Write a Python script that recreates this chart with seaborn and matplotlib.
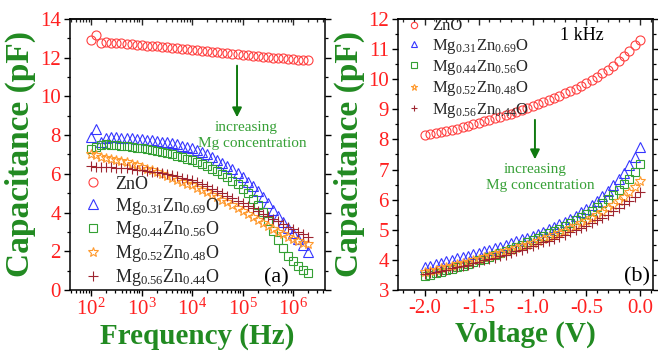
import matplotlib
matplotlib.use("Agg")
import matplotlib.pyplot as plt
import seaborn as sns

# ---- data ----
freq_hz = [100, 126, 158, 200, 251, 316, 398, 501, 631, 794,
           1000, 1259, 1585, 1995, 2512, 3162, 3981, 5012, 6310, 7943,
           10000, 12589, 15849, 19953, 25119, 31623, 39811, 50119, 63096, 79433,
           100000, 125893, 158489, 199526, 251189, 316228, 398107, 501187, 630957, 794328,
           1000000, 1258925, 1584893, 1995262]

cf_zno = [12.9, 13.15, 12.75, 12.8, 12.78, 12.76, 12.74, 12.71, 12.69, 12.67,
          12.65, 12.62, 12.6, 12.58, 12.55, 12.53, 12.5, 12.48, 12.46, 12.43,
          12.41, 12.38, 12.36, 12.34, 12.31, 12.29, 12.26, 12.24, 12.21, 12.19,
          12.16, 12.14, 12.11, 12.09, 12.06, 12.04, 12.01, 11.99, 11.96, 11.94,
          11.92, 11.9, 11.88, 11.87]
cf_mg31 = [7.9, 8.3, 7.65, 7.85, 7.88, 7.88, 7.87, 7.86, 7.84, 7.82,
           7.8, 7.77, 7.74, 7.7, 7.66, 7.62, 7.57, 7.52, 7.46, 7.4,
           7.33, 7.24, 7.14, 7.02, 6.89, 6.74, 6.58, 6.41, 6.23, 6.03,
           5.82, 5.6, 5.36, 5.1, 4.8, 4.47, 4.13, 3.8, 3.5, 3.22,
           2.93, 2.62, 2.3, 1.98]
cf_mg44 = [7.3, 7.4, 7.5, 7.52, 7.5, 7.48, 7.46, 7.43, 7.4, 7.36,
           7.32, 7.28, 7.23, 7.18, 7.12, 7.06, 7.0, 6.93, 6.86, 6.78,
           6.7, 6.6, 6.5, 6.38, 6.26, 6.13, 5.98, 5.82, 5.65, 5.46,
           5.24, 5.0, 4.72, 4.4, 4.02, 3.55, 3.05, 2.58, 2.15, 1.78,
           1.5, 1.25, 1.05, 0.88]
cf_mg52 = [7.05, 6.95, 6.88, 6.83, 6.78, 6.72, 6.66, 6.6, 6.52, 6.44,
           6.36, 6.27, 6.18, 6.09, 6.0, 5.9, 5.8, 5.7, 5.6, 5.5,
           5.4, 5.28, 5.16, 5.04, 4.92, 4.8, 4.67, 4.53, 4.38, 4.23,
           4.08, 3.92, 3.76, 3.6, 3.44, 3.29, 3.14, 3.0, 2.87, 2.75,
           2.64, 2.54, 2.45, 2.38]
cf_mg56 = [6.38, 6.37, 6.36, 6.35, 6.34, 6.32, 6.3, 6.28, 6.25, 6.22,
           6.19, 6.15, 6.11, 6.07, 6.02, 5.97, 5.92, 5.87, 5.81, 5.75,
           5.68, 5.58, 5.47, 5.36, 5.24, 5.12, 5.0, 4.87, 4.74, 4.61,
           4.48, 4.35, 4.22, 4.09, 3.95, 3.82, 3.68, 3.54, 3.4, 3.27,
           3.13, 3.0, 2.87, 2.74]

volt = [-2.0, -1.95, -1.9, -1.85, -1.8, -1.75, -1.7, -1.65, -1.6, -1.55,
        -1.5, -1.45, -1.4, -1.35, -1.3, -1.25, -1.2, -1.15, -1.1, -1.05,
        -1.0, -0.95, -0.9, -0.85, -0.8, -0.75, -0.7, -0.65, -0.6, -0.55,
        -0.5, -0.45, -0.4, -0.35, -0.3, -0.25, -0.2, -0.15, -0.1, -0.05, 0.0]

cv_zno = [8.15, 8.18, 8.21, 8.25, 8.28, 8.32, 8.36, 8.4, 8.44, 8.5,
          8.55, 8.6, 8.65, 8.7, 8.75, 8.8, 8.86, 8.92, 8.98, 9.04,
          9.1, 9.17, 9.24, 9.31, 9.38, 9.45, 9.53, 9.61, 9.69, 9.78,
          9.87, 9.97, 10.08, 10.2, 10.32, 10.45, 10.6, 10.77, 10.95, 11.12, 11.3]
cv_mg31 = [3.75, 3.8, 3.85, 3.9, 3.95, 4.0, 4.05, 4.1, 4.14, 4.19,
           4.24, 4.29, 4.34, 4.39, 4.44, 4.5, 4.56, 4.62, 4.68, 4.74,
           4.8, 4.87, 4.94, 5.02, 5.1, 5.18, 5.27, 5.37, 5.47, 5.58,
           5.7, 5.83, 5.97, 6.12, 6.29, 6.48, 6.68, 6.9, 7.14, 7.42, 7.75]
cv_mg44 = [3.45, 3.5, 3.55, 3.6, 3.65, 3.7, 3.76, 3.81, 3.87, 3.92,
           3.98, 4.04, 4.1, 4.16, 4.22, 4.29, 4.36, 4.43, 4.5, 4.58,
           4.66, 4.73, 4.8, 4.88, 4.96, 5.04, 5.12, 5.21, 5.31, 5.41,
           5.52, 5.63, 5.75, 5.88, 6.02, 6.17, 6.33, 6.51, 6.7, 6.92, 7.17]
cv_mg52 = [3.6, 3.64, 3.68, 3.72, 3.76, 3.8, 3.85, 3.89, 3.94, 3.98,
           4.03, 4.08, 4.13, 4.18, 4.23, 4.28, 4.34, 4.39, 4.45, 4.51,
           4.57, 4.63, 4.7, 4.76, 4.83, 4.9, 4.97, 5.05, 5.13, 5.21,
           5.3, 5.39, 5.49, 5.6, 5.71, 5.83, 5.96, 6.1, 6.26, 6.43, 6.63]
cv_mg56 = [3.52, 3.56, 3.6, 3.64, 3.68, 3.72, 3.76, 3.8, 3.84, 3.89,
           3.93, 3.98, 4.02, 4.07, 4.12, 4.17, 4.23, 4.28, 4.34, 4.4,
           4.46, 4.52, 4.58, 4.64, 4.7, 4.77, 4.84, 4.91, 4.98, 5.06,
           5.14, 5.22, 5.31, 5.4, 5.5, 5.61, 5.72, 5.84, 5.97, 6.1, 6.25]

labels = ["ZnO", r"Mg$_{0.31}$Zn$_{0.69}$O", r"Mg$_{0.44}$Zn$_{0.56}$O",
          r"Mg$_{0.52}$Zn$_{0.48}$O", r"Mg$_{0.56}$Zn$_{0.44}$O"]
colors = ["#FF4040", "#3535FF", "#34A034", "#FF9A2E", "#9E2530"]
markers = ["o", "^", "s", "*", "+"]

# ---- style ----
sns.set_theme(style="ticks")
plt.rcParams["font.family"] = ["Liberation Serif", "DejaVu Serif"]
plt.rcParams["mathtext.fontset"] = "custom"
plt.rcParams["mathtext.rm"] = "Liberation Serif"
plt.rcParams["mathtext.it"] = "Liberation Serif:italic"
plt.rcParams["mathtext.bf"] = "Liberation Serif:bold"
plt.rcParams["axes.linewidth"] = 1.1

green = "#218A21"
txt_green = "#36A036"
red = "#FF2020"

fig = plt.figure(figsize=(6.58, 3.51), dpi=100)
ax1 = fig.add_axes([0.1064, 0.1738, 0.3875, 0.7721])
ax2 = fig.add_axes([0.6049, 0.1738, 0.3875, 0.7721])

# panel (a)
left_sets = [cf_zno, cf_mg31, cf_mg44, cf_mg52, cf_mg56]
left_ms = [6.5, 7, 5.5, 7, 7]
for vals, lab, c, m, ms in zip(left_sets, labels, colors, markers, left_ms):
    sns.lineplot(x=freq_hz, y=vals, ax=ax1, label=lab, marker=m, linestyle="none",
                 markersize=ms, markerfacecolor="none", markeredgecolor=c,
                 markeredgewidth=0.8, color=c, sort=False)
ax1.set_xscale("log")
ax1.set_xlim(38, 4.3e6)
ax1.set_ylim(0, 14)
ax1.set_yticks([0, 2, 4, 6, 8, 10, 12, 14])
ax1.yaxis.set_minor_locator(matplotlib.ticker.MultipleLocator(1))
ax1.set_xticks([1e2, 1e3, 1e4, 1e5, 1e6])
ax1.xaxis.set_minor_locator(matplotlib.ticker.LogLocator(base=10, subs=range(2, 10), numticks=20))
ax1.xaxis.set_minor_formatter(matplotlib.ticker.NullFormatter())
ax1.set_xlabel("Frequency (Hz)", fontsize=21, fontweight="bold", color=green, labelpad=2)
ax1.set_ylabel("Capacitance (pF)", fontsize=24, fontweight="bold", color=green, labelpad=3)
ax1.legend(loc="lower left", bbox_to_anchor=(0.0, -0.04), frameon=False, fontsize=13,
           handlelength=1.2, handletextpad=0.6, labelspacing=0.16, borderaxespad=0.3)
ax1.annotate("", xy=(0.655, 0.627), xytext=(0.655, 0.838), xycoords="axes fraction",
             arrowprops=dict(arrowstyle="-|>", color="#107A10", lw=1.4, mutation_scale=14))
ax1.text(0.69, 0.601, "increasing", transform=ax1.transAxes, ha="center", va="center",
         color=txt_green, fontsize=11)
ax1.text(0.714, 0.542, "Mg concentration", transform=ax1.transAxes, ha="center", va="center",
         color=txt_green, fontsize=11)
ax1.text(0.81, 0.045, "(a)", transform=ax1.transAxes, ha="center", va="center",
         color="black", fontsize=16)

# panel (b)
right_sets = [cv_zno, cv_mg31, cv_mg44, cv_mg52, cv_mg56]
right_ms = [6.5, 7, 5.5, 7, 7]
for vals, lab, c, m, ms in zip(right_sets, labels, colors, markers, right_ms):
    sns.lineplot(x=volt, y=vals, ax=ax2, label=lab, marker=m, linestyle="none",
                 markersize=ms, markerfacecolor="none", markeredgecolor=c,
                 markeredgewidth=0.8, color=c, sort=False)
ax2.set_xlim(-2.25, 0.12)
ax2.set_ylim(3, 12)
ax2.set_xticks([-2.0, -1.5, -1.0, -0.5, 0.0])
ax2.set_xticklabels(["-2.0", "-1.5", "-1.0", "-0.5", "0.0"])
ax2.xaxis.set_minor_locator(matplotlib.ticker.MultipleLocator(0.1))
ax2.set_yticks(range(3, 13))
ax2.yaxis.set_minor_locator(matplotlib.ticker.MultipleLocator(0.5))
ax2.set_xlabel("Voltage (V)", fontsize=21, fontweight="bold", color=green, labelpad=2)
ax2.set_ylabel("Capacitance (pF)", fontsize=24, fontweight="bold", color=green, labelpad=2)
ax2.legend(loc="upper left", bbox_to_anchor=(-0.01, 1.045), frameon=False, fontsize=12,
           handlelength=0.8, handletextpad=0.7, labelspacing=0.14, borderaxespad=0.3,
           markerscale=0.7)
ax2.annotate("", xy=(0.537, 0.472), xytext=(0.537, 0.638), xycoords="axes fraction",
             arrowprops=dict(arrowstyle="-|>", color="#107A10", lw=1.4, mutation_scale=14))
ax2.text(0.537, 0.443, "increasing", transform=ax2.transAxes, ha="center", va="center",
         color=txt_green, fontsize=11)
ax2.text(0.557, 0.387, "Mg concentration", transform=ax2.transAxes, ha="center", va="center",
         color=txt_green, fontsize=11)
ax2.text(0.72, 0.94, "1 kHz", transform=ax2.transAxes, ha="center", va="center",
         color="black", fontsize=13)
ax2.text(0.937, 0.05, "(b)", transform=ax2.transAxes, ha="center", va="center",
         color="black", fontsize=16)

# ticks: out on bottom/left/right, in on top
for ax in (ax1, ax2):
    for s in ax.spines.values():
        s.set_visible(True)
        s.set_color("black")
    ax.tick_params(axis="both", which="major", direction="out", length=4.5, width=1.0,
                   labelsize=15, labelcolor=red, color="black", pad=2)
    ax.tick_params(axis="both", which="minor", direction="out", length=2.5, width=0.9,
                   color="black")
    ax.tick_params(axis="y", which="both", right=True)
    top = ax.secondary_xaxis("top")
    top.tick_params(axis="x", which="major", direction="in", length=4.5, width=1.0,
                    labeltop=False)
    top.tick_params(axis="x", which="minor", direction="in", length=2.5, width=0.9)
    if ax is ax1:
        top.set_xticks([1e2, 1e3, 1e4, 1e5, 1e6])
        top.xaxis.set_minor_locator(matplotlib.ticker.LogLocator(base=10, subs=range(2, 10), numticks=20))
    else:
        top.set_xticks([-2.0, -1.5, -1.0, -0.5, 0.0])
        top.xaxis.set_minor_locator(matplotlib.ticker.MultipleLocator(0.1))
    top.xaxis.set_major_formatter(matplotlib.ticker.NullFormatter())
    top.xaxis.set_minor_formatter(matplotlib.ticker.NullFormatter())

fig.savefig("out.png", dpi=100)
